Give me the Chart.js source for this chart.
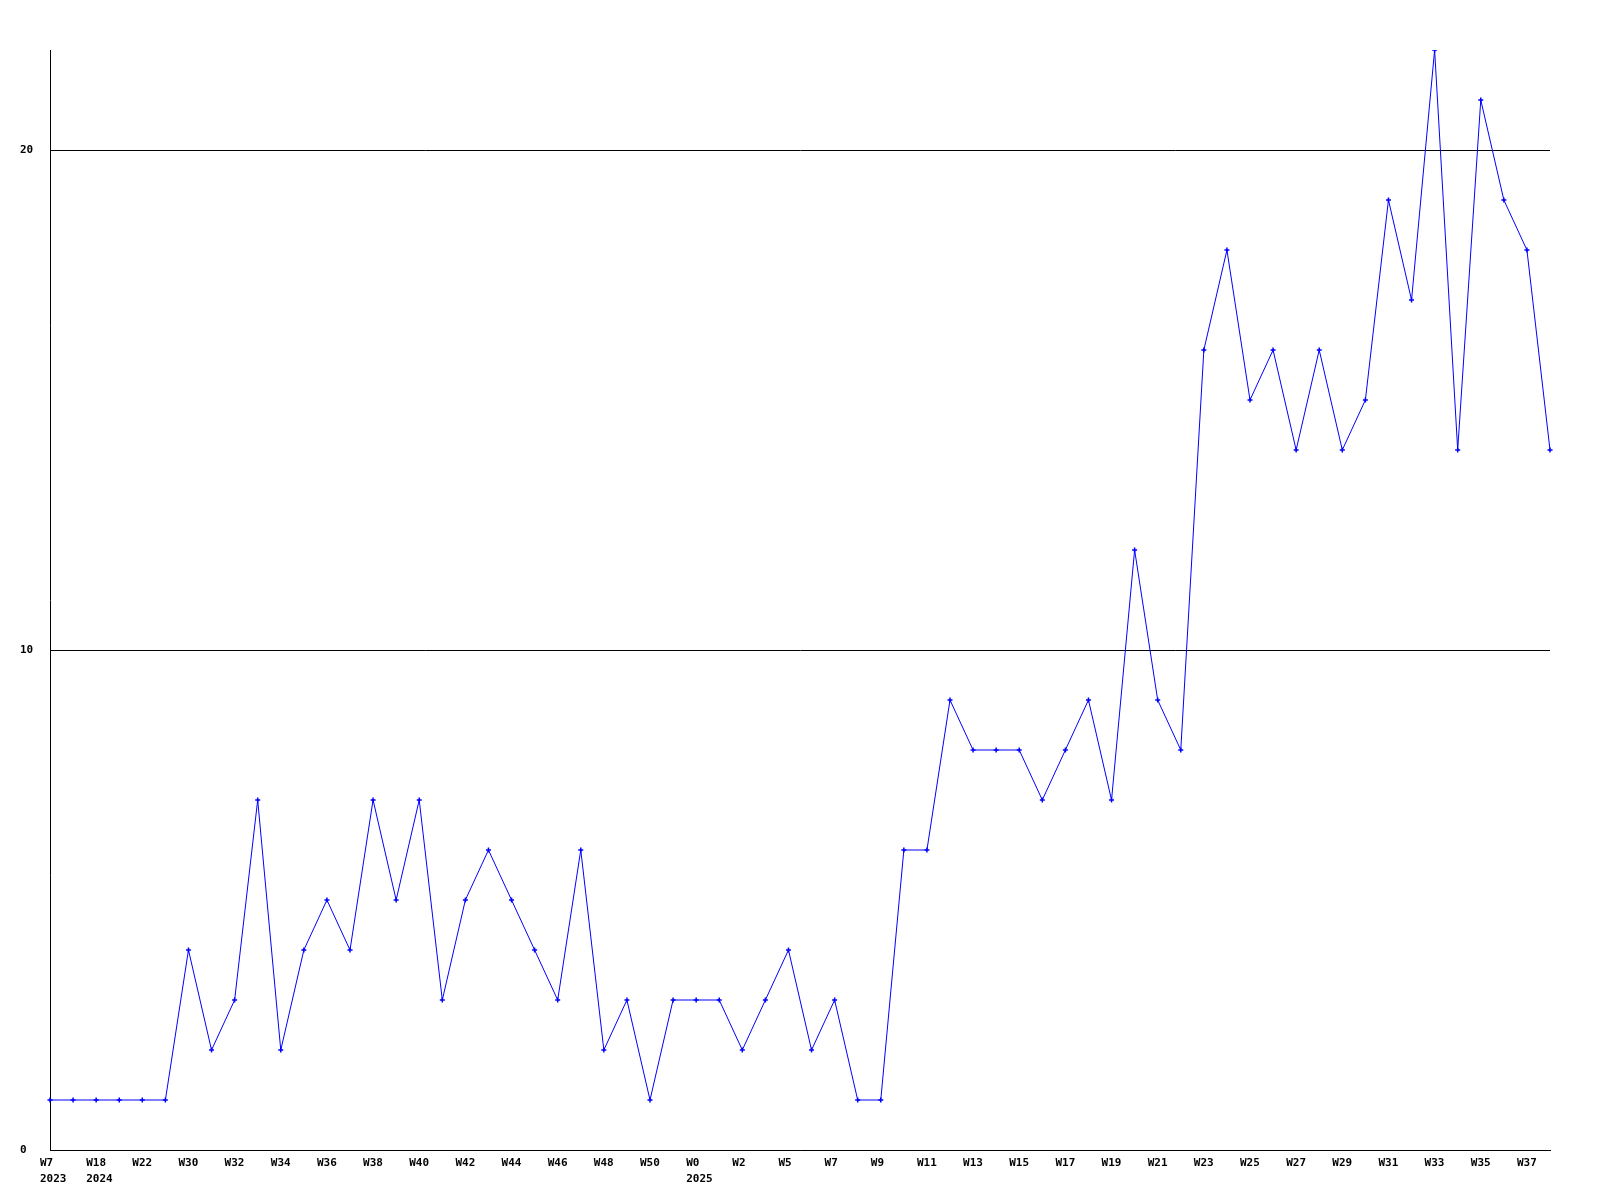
<!DOCTYPE html>
<html>
<head>
<meta charset="utf-8">
<script src="https://cdn.jsdelivr.net/npm/chart.js@4/dist/chart.umd.min.js"></script>
<style>
  html, body { margin: 0; padding: 0; background: #fff; }
  canvas { display: block; }
</style>
</head>
<body>
<canvas id="chart" width="1600" height="1200"></canvas>
<script>
// week of each point
const weeks = [
  'W7', 'W12', 'W18', 'W20', 'W22', 'W27', 'W30', 'W31', 'W32', 'W33',
  'W34', 'W35', 'W36', 'W37', 'W38', 'W39', 'W40', 'W41', 'W42', 'W43',
  'W44', 'W45', 'W46', 'W47', 'W48', 'W49', 'W50', 'W51', 'W0', 'W1',
  'W2', 'W4', 'W5', 'W6', 'W7', 'W8', 'W9', 'W10', 'W11', 'W12',
  'W13', 'W14', 'W15', 'W16', 'W17', 'W18', 'W19', 'W20', 'W21', 'W22',
  'W23', 'W24', 'W25', 'W26', 'W27', 'W28', 'W29', 'W30', 'W31', 'W32',
  'W33', 'W34', 'W35', 'W36', 'W37', 'W38'
];

// where a new year starts (index into weeks) and its name
const yearStarts = [0, 2, 28];
const yearNames = ['2023', '2024', '2025'];

const counts = [
  1, 1, 1, 1, 1, 1, 4, 2, 3, 7,
  2, 4, 5, 4, 7, 5, 7, 3, 5, 6,
  5, 4, 3, 6, 2, 3, 1, 3, 3, 3,
  2, 3, 4, 2, 3, 1, 1, 6, 6, 9,
  8, 8, 8, 7, 8, 9, 7, 12, 9, 8,
  16, 18, 15, 16, 14, 16, 14, 15, 19, 17,
  22, 14, 21, 19, 18, 14
];

const yTicks = [0, 10, 20];
const yMax = 22;

const FONT = { family: '"DejaVu Sans Mono", "Liberation Mono", monospace', size: 11, weight: 'bold', lineHeight: 1.45 };

const labels = weeks.map((w, i) => {
  let k = yearStarts.indexOf(i);
  return k >= 0 ? [w, yearNames[k]] : w;
});

new Chart(document.getElementById('chart'), {
  type: 'line',
  data: {
    labels: labels,
    datasets: [{
      data: counts,
      borderColor: 'rgb(0, 0, 255)',
      backgroundColor: 'rgb(0, 0, 255)',
      borderWidth: 1,
      tension: 0,
      fill: false,
      pointStyle: 'cross',
      pointRadius: 2.5,
      pointBorderWidth: 1.5,
      pointBorderColor: 'rgb(0, 0, 255)'
    }]
  },
  options: {
    responsive: false,
    animation: false,
    devicePixelRatio: 1,
    layout: { padding: { left: 20, right: 50, top: 50, bottom: 0 } },
    plugins: {
      legend: { display: false },
      tooltip: { enabled: false }
    },
    scales: {
      x: {
        offset: false,
        grid: { drawOnChartArea: false, drawTicks: false },
        border: { display: true, color: '#000', width: 1 },
        ticks: {
          autoSkip: false,
          maxRotation: 0,
          align: 'start',
          labelOffset: -10,
          padding: 5,
          color: '#000',
          font: FONT,
          callback: function(value, index) {
            return index % 2 === 0 ? this.getLabelForValue(value) : '';
          }
        },
        afterFit: function(scale) { scale.height = 50; }
      },
      y: {
        min: 0,
        max: yMax,
        grid: { color: '#000', lineWidth: 1, drawTicks: false },
        border: { display: true, color: '#000', width: 1 },
        afterBuildTicks: function(scale) {
          scale.ticks = yTicks.map(v => ({ value: v }));
        },
        ticks: {
          crossAlign: 'far',
          padding: 0,
          color: '#000',
          font: FONT
        },
        afterFit: function(scale) { scale.width = 30; }
      }
    }
  }
});
</script>
</body>
</html>
